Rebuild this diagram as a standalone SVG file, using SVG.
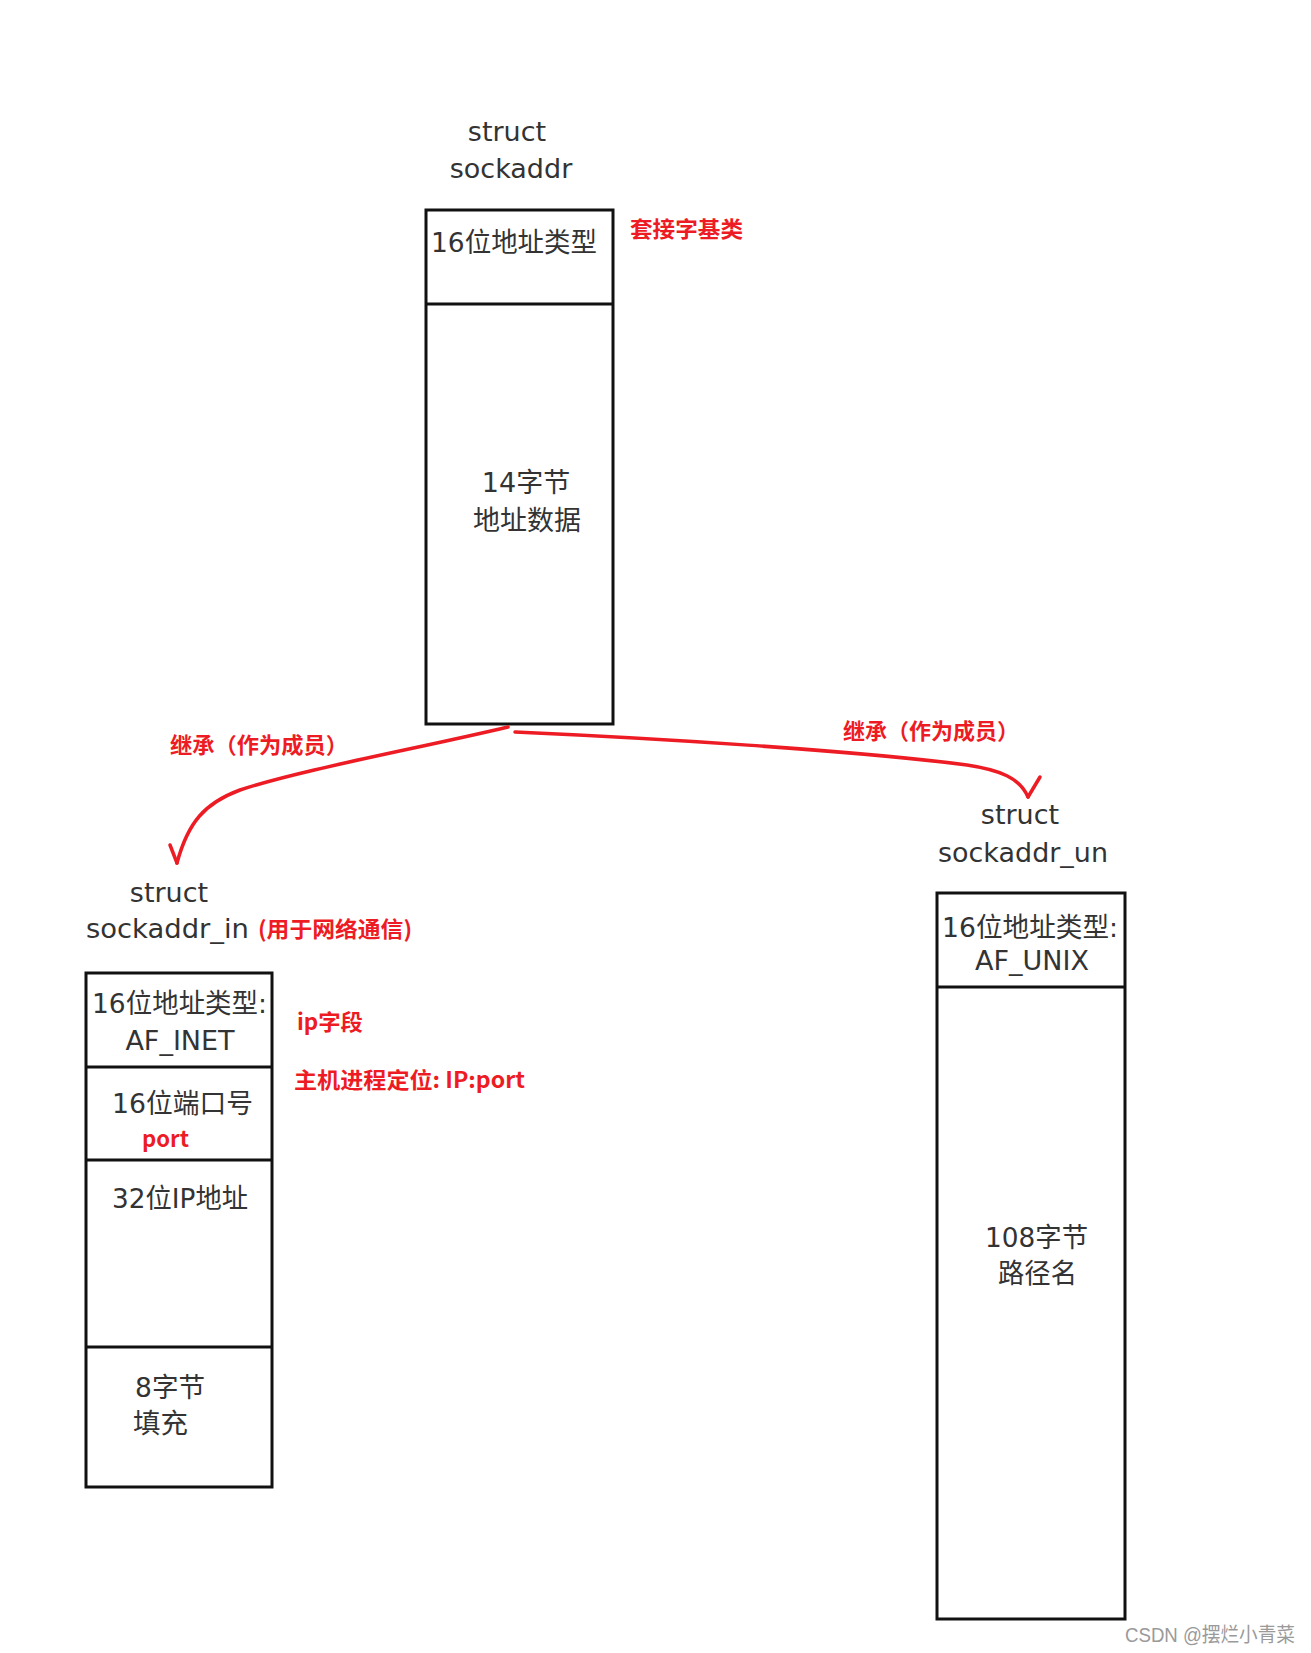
<svg xmlns="http://www.w3.org/2000/svg" width="1311" height="1653" viewBox="0 0 1311 1653">
<style>
.box{fill:#fff;stroke:#111;stroke-width:3}
.div{stroke:#111;stroke-width:3}
.t{font-family:"DejaVu Sans","Noto Sans CJK SC",sans-serif;font-size:27px;fill:#333}
.tc{font-family:"DejaVu Sans","Noto Sans CJK SC",sans-serif;font-size:27px;fill:#333;text-anchor:middle}
.r{font-family:"Noto Sans CJK SC","Noto Sans",sans-serif;font-weight:700;font-size:22px;fill:#ed1c24}
.arr{fill:none;stroke:#ed1c24;stroke-width:3.5;stroke-linecap:round;stroke-linejoin:round}
.wm{font-family:"Liberation Sans","Noto Sans CJK SC",sans-serif;font-size:20px;fill:#9a9a9a}
</style>
<rect width="1311" height="1653" fill="#fff"/>

<g id="sockaddr">
<text class="tc" x="507" y="141">struct</text>
<text class="tc" x="511" y="178">sockaddr</text>
<rect class="box" x="426" y="210" width="187" height="514"/>
<line class="div" x1="426" y1="304" x2="613" y2="304"/>
<text class="t" x="431" y="252" textLength="166" lengthAdjust="spacingAndGlyphs">16位地址类型</text>
<text class="tc" x="526" y="492">14字节</text>
<text class="tc" x="527" y="530">地址数据</text>
<text class="r" x="630" y="237" textLength="113" lengthAdjust="spacingAndGlyphs">套接字基类</text>
</g>

<g id="sockaddr_in">
<text class="tc" x="169" y="902">struct</text>
<text class="t" x="86" y="938" textLength="163" lengthAdjust="spacingAndGlyphs">sockaddr_in</text>
<text class="r" x="258" y="937" textLength="154" lengthAdjust="spacingAndGlyphs">(用于网络通信)</text>
<rect class="box" x="86" y="973" width="186" height="514"/>
<line class="div" x1="86" y1="1067" x2="272" y2="1067"/>
<line class="div" x1="86" y1="1160" x2="272" y2="1160"/>
<line class="div" x1="86" y1="1347" x2="272" y2="1347"/>
<text class="t" x="92" y="1013" textLength="175" lengthAdjust="spacingAndGlyphs">16位地址类型:</text>
<text class="tc" x="180" y="1050">AF_INET</text>
<text class="t" x="112" y="1113" textLength="141" lengthAdjust="spacingAndGlyphs">16位端口号</text>
<text class="r" x="142" y="1147" textLength="47" lengthAdjust="spacingAndGlyphs">port</text>
<text class="t" x="112" y="1208" textLength="136" lengthAdjust="spacingAndGlyphs">32位IP地址</text>
<text class="t" x="135" y="1397" textLength="70" lengthAdjust="spacingAndGlyphs">8字节</text>
<text class="t" x="133" y="1433" textLength="55" lengthAdjust="spacingAndGlyphs">填充</text>
<text class="r" x="297" y="1030" textLength="66" lengthAdjust="spacingAndGlyphs">ip字段</text>
<text class="r" x="294" y="1088" textLength="231" lengthAdjust="spacingAndGlyphs">主机进程定位: IP:port</text>
</g>

<g id="sockaddr_un">
<text class="tc" x="1020" y="824">struct</text>
<text class="t" x="938" y="862" textLength="170" lengthAdjust="spacingAndGlyphs">sockaddr_un</text>
<rect class="box" x="937" y="893" width="188" height="726"/>
<line class="div" x1="937" y1="987" x2="1125" y2="987"/>
<text class="t" x="942" y="937" textLength="176" lengthAdjust="spacingAndGlyphs">16位地址类型:</text>
<text class="tc" x="1032" y="970">AF_UNIX</text>
<text class="t" x="985" y="1247" textLength="103" lengthAdjust="spacingAndGlyphs">108字节</text>
<text class="t" x="998" y="1283" textLength="79" lengthAdjust="spacingAndGlyphs">路径名</text>
</g>

<g id="connectors">
<path class="arr" d="M508,727 C420,748 300,770 240,790 C205,803 188,822 177,863"/>
<path class="arr" d="M170,845 L177,863"/>
<path class="arr" d="M515,732 C650,738 850,750 967,765 C1000,770 1020,778 1028,797"/>
<path class="arr" d="M1040,777 L1028,797"/>
<text class="r" x="170" y="753" textLength="178" lengthAdjust="spacingAndGlyphs">继承（作为成员）</text>
<text class="r" x="843" y="739" textLength="176" lengthAdjust="spacingAndGlyphs">继承（作为成员）</text>
</g>

<text class="wm" x="1125" y="1642" textLength="170" lengthAdjust="spacingAndGlyphs">CSDN @摆烂小青菜</text>
</svg>
